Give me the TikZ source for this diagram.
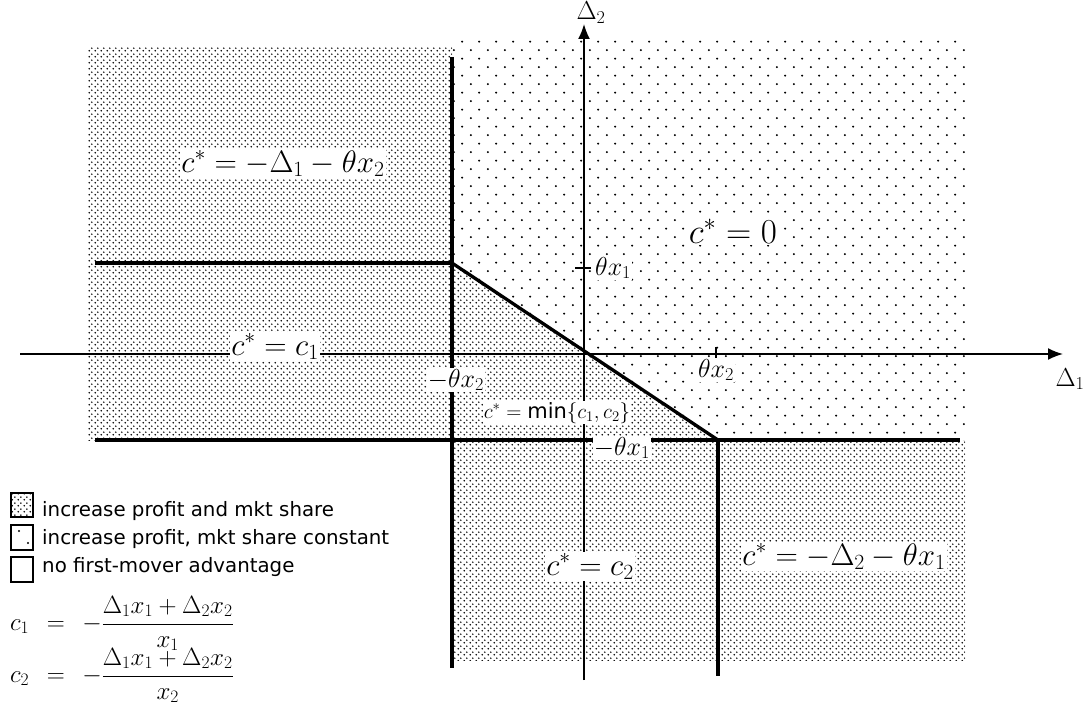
\documentclass[tikz,border=0pt]{standalone}
\usepackage{fix-cm}
\usepackage{fontspec}
\newfontfamily\legfont{DejaVu Sans}
\usetikzlibrary{patterns,arrows.meta}

\pgfdeclarepatternformonly{densedots}{\pgfqpoint{0pt}{0pt}}{\pgfqpoint{5.5pt}{5.5pt}}{\pgfqpoint{5.5pt}{5.5pt}}{%
  \pgfpathcircle{\pgfqpoint{1.375pt}{1.375pt}}{0.9pt}%
  \pgfpathcircle{\pgfqpoint{4.125pt}{4.125pt}}{0.9pt}%
  \pgfusepath{fill}}
\pgfdeclarepatternformonly{sparsedots}{\pgfqpoint{0pt}{0pt}}{\pgfqpoint{16.7pt}{17.4pt}}{\pgfqpoint{16.7pt}{17.4pt}}{%
  \pgfpathcircle{\pgfqpoint{4pt}{4pt}}{1.15pt}%
  \pgfpathcircle{\pgfqpoint{12.35pt}{12.7pt}}{1.15pt}%
  \pgfusepath{fill}}

\tikzset{
  thickl/.style={line width=3.3pt},
  axisl/.style={line width=1.7pt},
  arrowed/.style={-{Latex[length=15pt,width=12pt]}},
  lab/.style={fill=white, inner sep=1.5pt, font=\fontsize{31}{36}\selectfont},
  biglab/.style={fill=white, inner sep=1.5pt, font=\fontsize{35}{40}\selectfont},
  smalllab/.style={fill=white, inner sep=1pt, font=\fontsize{21}{25}\selectfont},
  tlab/.style={fill=white, inner sep=1pt, font=\fontsize{26}{30}\selectfont},
  alab/.style={inner sep=1pt, font=\fontsize{26}{30}\selectfont},
  legbox/.style={line width=2pt},
  legtext/.style={inner sep=0pt, font=\legfont\fontsize{19.8}{23}\selectfont},
  eqlab/.style={inner sep=0pt, font=\fontsize{25}{28}\selectfont}
}

\begin{document}
\begin{tikzpicture}[x=1pt,y=-1pt]
\useasboundingbox (0,0) rectangle (1091,706);

% key points
\coordinate (A) at (452,263);
\coordinate (B) at (718,440);
\coordinate (O) at (584,354);

% shaded regions
\fill[pattern=densedots] (88,47) rectangle (452,440);
\fill[pattern=densedots] (A) -- (B) -- (452,440) -- cycle;
\fill[pattern=densedots] (452,440) rectangle (965,660);
\fill[pattern=sparsedots] (452,40) -- (965,40) -- (965,440) -- (B) -- (A) -- cycle;

% axes
\coordinate (xs) at (20,354);
\coordinate (xe) at (1063,354);
\coordinate (ys) at (584,680);
\coordinate (ye) at (584,24);
\draw[axisl,arrowed] (xs) -- (xe);
\draw[axisl,arrowed] (ys) -- (ye);

% ticks
\draw[axisl] (575,268) -- (591,268);
\draw[axisl] (716,347) -- (716,361);

% boundaries
\coordinate (h1s) at (95,263);
\coordinate (v1s) at (452,57);
\coordinate (v1e) at (452,668);
\coordinate (h2s) at (95,440);
\coordinate (h2e) at (960,440);
\coordinate (v2e) at (718,676);
\draw[thickl] (h1s) -- (A);
\draw[thickl] (v1s) -- (v1e);
\draw[thickl] (A) -- (B);
\draw[thickl] (h2s) -- (h2e);
\draw[thickl] (B) -- (v2e);

% region labels
\node[lab, anchor=base] (r1) at (283,172) {$c^* = -\Delta_1 - \theta x_2$};
\node[biglab, anchor=base] (r0) at (733,243) {$c^* = 0$};
\node[lab, anchor=base] (rc1) at (275,355) {$c^* = c_1$};
\node[smalllab, anchor=base] (rmin) at (557,418) {$c^* = \mathop{\hbox{\legfont min}}\{c_1,c_2\}$};
\node[lab, anchor=base] (rc2) at (590,575) {$c^* = c_2$};
\node[lab, anchor=base] (r2) at (844,565) {$c^* = -\Delta_2 - \theta x_1$};

% tick labels
\node[tlab, anchor=base west] (tx1) at (594,275) {$\theta x_1$};
\node[tlab, anchor=base] (tx2) at (716,377) {$\theta x_2$};
\node[tlab, anchor=base] (mtx2) at (456,387) {$-\theta x_2$};
\node[tlab, anchor=base] (mtx1) at (622,455) {$-\theta x_1$};
\node[alab, anchor=base] (d1) at (1070,386) {$\Delta_1$};
\node[alab, anchor=base] (d2) at (591,20) {$\Delta_2$};

% legend
\draw[legbox, pattern=densedots] (11,493) rectangle (33,517);
\draw[legbox] (11,525) rectangle (33,550);
\fill (19,531) circle (1.1pt);
\fill (28,543) circle (1.1pt);
\draw[legbox] (11,557) rectangle (33,582);
\node[legtext, anchor=base west] (t1) at (42,516) {increase profit and mkt share};
\node[legtext, anchor=base west] (t2) at (42,544) {increase profit, mkt share constant};
\node[legtext, anchor=base west] (t3) at (42,572) {no first-mover advantage};

\node[eqlab, anchor=base west] (e1) at (10,630) {$c_1\hspace{0.7em}{=}\hspace{0.7em}{-}{\displaystyle\frac{\Delta_1x_1+\Delta_2x_2}{x_1}}$};
\node[eqlab, anchor=base west] (e2) at (10,682) {$c_2\hspace{0.7em}{=}\hspace{0.7em}{-}{\displaystyle\frac{\Delta_1x_1+\Delta_2x_2}{x_2}}$};
\end{tikzpicture}
\end{document}
